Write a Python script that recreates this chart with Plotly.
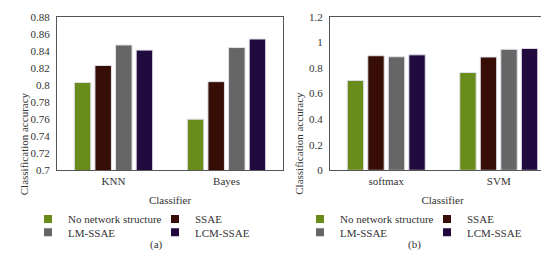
import plotly.graph_objects as go

series = ["No network structure", "SSAE", "LM-SSAE", "LCM-SSAE"]
colors = ["#6a8c1a", "#360e06", "#666666", "#210a3d"]

cats_a = ["KNN", "Bayes"]
vals_a = {
    "No network structure": [0.803, 0.760],
    "SSAE": [0.823, 0.804],
    "LM-SSAE": [0.847, 0.844],
    "LCM-SSAE": [0.841, 0.854],
}
cats_b = ["softmax", "SVM"]
vals_b = {
    "No network structure": [0.703, 0.765],
    "SSAE": [0.896, 0.886],
    "LM-SSAE": [0.888, 0.946],
    "LCM-SSAE": [0.903, 0.953],
}
yticks_a = [0.7, 0.72, 0.74, 0.76, 0.78, 0.8, 0.82, 0.84, 0.86, 0.88]
yticks_b = [0, 0.2, 0.4, 0.6, 0.8, 1, 1.2]

FONT = "Liberation Serif"
TXT = "#333333"
AX = "#555555"

fig = go.Figure()
legend_rows = {"No network structure": 0, "SSAE": 0, "LM-SSAE": 1, "LCM-SSAE": 1}
for i, s in enumerate(series):
    fig.add_trace(go.Bar(x=cats_a, y=vals_a[s], name=s, marker_color=colors[i],
                         marker_line=dict(color="#e2e0ea", width=1),
                         xaxis="x", yaxis="y", showlegend=False))
    fig.add_trace(go.Bar(x=cats_b, y=vals_b[s], name=s, marker_color=colors[i],
                         marker_line=dict(color="#e2e0ea", width=1),
                         xaxis="x2", yaxis="y2", showlegend=False))
# legend entries (one legend per row per panel)
for i, s in enumerate(series):
    r = legend_rows[s]
    for p in range(2):
        lg = "legend" if (p == 0 and r == 0) else f"legend{1 + p * 2 + r}"
        fig.add_trace(go.Scatter(x=[None], y=[None], mode="markers", name=s,
                                 marker=dict(symbol="square", size=8, color=colors[i]),
                                 legend=lg, showlegend=True,
                                 xaxis="x" if p == 0 else "x2", yaxis="y" if p == 0 else "y2"))

W, H = 549, 256
def px(x):
    return x / W
def py(y):
    return 1 - y / H

axis_common = dict(showline=True, linecolor=AX, linewidth=1, mirror=True,
                   showgrid=False, zeroline=False,
                   tickfont=dict(family=FONT, size=11, color=TXT))

leg_common = dict(orientation="h", font=dict(family=FONT, size=11, color=TXT),
                  entrywidth=82, entrywidthmode="pixels", xanchor="left", yanchor="middle",
                  bgcolor="rgba(0,0,0,0)", borderwidth=0, tracegroupgap=0,
                  itemwidth=30)

tfont = dict(family=FONT, size=11, color=TXT)

fig.update_layout(
    width=W, height=H,
    margin=dict(l=0, r=0, t=0, b=0),
    paper_bgcolor="white", plot_bgcolor="white",
    barmode="group", bargap=0.27, bargroupgap=0.2,
    xaxis=dict(domain=[px(49), px(275)], anchor="y", ticks="", **axis_common,
               title=dict(text="Classifier", font=tfont, standoff=10)),
    yaxis=dict(domain=[py(164), py(3)], anchor="x", range=[0.7, 0.88],
               tickvals=yticks_a, ticktext=[f"{v:g}" for v in yticks_a],
               ticks="outside", ticklen=4, tickcolor="rgba(0,0,0,0)", **axis_common,
               ticklabeloverflow="allow"),
    xaxis2=dict(domain=[px(322), px(547)], anchor="y2", ticks="", **axis_common,
                title=dict(text="Classifier", font=tfont, standoff=10)),
    yaxis2=dict(domain=[py(164), py(3)], anchor="x2", range=[0, 1.2],
                tickvals=yticks_b, ticktext=[f"{v:g}" for v in yticks_b],
                ticks="outside", ticklen=4, tickcolor="rgba(0,0,0,0)", **axis_common,
                ticklabeloverflow="allow"),
    legend=dict(x=px(20), y=py(215), **leg_common),
    legend2=dict(x=px(20), y=py(229), **leg_common),
    legend3=dict(x=px(292), y=py(215), **leg_common),
    legend4=dict(x=px(292), y=py(229), **leg_common),
    annotations=[
        dict(text="Classification accuracy", textangle=-90, x=px(7.5), y=py(80),
             xref="paper", yref="paper", showarrow=False, font=tfont),
        dict(text="Classification accuracy", textangle=-90, x=px(291), y=py(80),
             xref="paper", yref="paper", showarrow=False, font=tfont),
        dict(text="(a)", x=px(140), y=py(251), xref="paper", yref="paper", showarrow=False,
             font=tfont),
        dict(text="(b)", x=px(415), y=py(251), xref="paper", yref="paper", showarrow=False,
             font=tfont),
    ],
)

fig.write_html("out.html")
